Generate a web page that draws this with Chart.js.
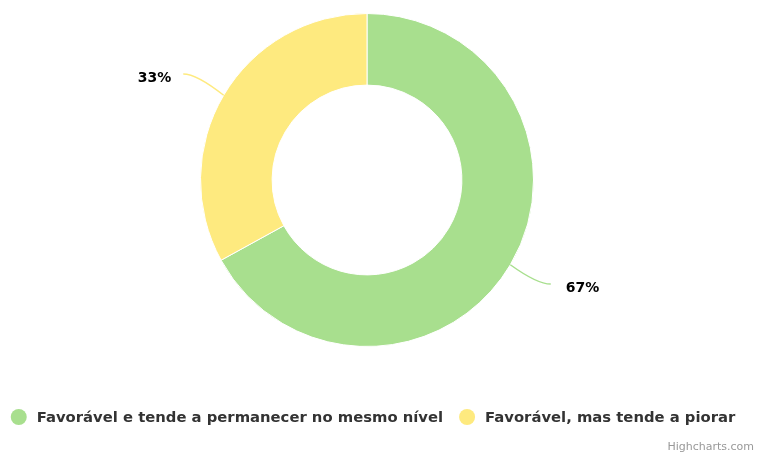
<!DOCTYPE html>
<html>
<head>
<meta charset="utf-8">
<script src="https://cdn.jsdelivr.net/npm/chart.js@4"></script>
<style>
  html, body { margin: 0; padding: 0; background: #ffffff; }
  #wrap { width: 761px; height: 455px; position: relative; }
</style>
</head>
<body>
<div id="wrap"><canvas id="c" width="761" height="455"></canvas></div>
<script>
const categories = ["Favorável e tende a permanecer no mesmo nível", "Favorável, mas tende a piorar"];
const values = [67, 33];
const valueLabels = ["67%", "33%"];
const colors = ["#a8df8e", "#feea7f"];
const creditText = "Highcharts.com";

const FONT = "'DejaVu Sans', 'Liberation Sans', sans-serif";

const pieLabels = {
  id: 'pieLabels',
  afterDatasetsDraw(chart) {
    const ctx = chart.ctx;
    const meta = chart.getDatasetMeta(0);
    ctx.save();
    meta.data.forEach((arc, i) => {
      const p = arc.getProps(['x', 'y', 'startAngle', 'endAngle', 'outerRadius'], true);
      const mid = (p.startAngle + p.endAngle) / 2;
      const cos = Math.cos(mid), sin = Math.sin(mid);
      const r = p.outerRadius;
      const sx = p.x + r * cos, sy = p.y + r * sin;
      const right = cos >= 0;
      const rx = p.x + (r + 40) * cos, ry = p.y + (r + 40) * sin;
      const ex = rx + (right ? 6 : -6), ey = ry - 1;
      const cx1 = p.x + (r + 22) * cos;
      ctx.beginPath();
      ctx.moveTo(sx, sy);
      ctx.quadraticCurveTo(cx1 + (right ? 8 : -8), ey, ex, ey);
      ctx.strokeStyle = chart.data.datasets[0].backgroundColor[i];
      ctx.lineWidth = 1.5;
      ctx.stroke();
      ctx.font = "bold 14px " + FONT;
      ctx.fillStyle = "#000000";
      ctx.textBaseline = "middle";
      ctx.textAlign = right ? "left" : "right";
      ctx.fillText(valueLabels[i], ex + (right ? 15 : -12), ey + 4);
    });
    ctx.restore();
  }
};

const customLegend = {
  id: 'customLegend',
  afterDraw(chart) {
    const ctx = chart.ctx;
    ctx.save();
    ctx.font = "bold 14.8px " + FONT;
    const symW = 16, symGap = 10, itemGap = 16;
    const widths = chart.data.labels.map(l => ctx.measureText(l).width);
    let total = 0;
    widths.forEach((w, i) => { total += symW + symGap + w + (i < widths.length - 1 ? itemGap : 0); });
    let x = 373 - total / 2;
    const y = 417;
    chart.data.labels.forEach((lab, i) => {
      ctx.beginPath();
      ctx.arc(x + symW / 2, y, symW / 2, 0, Math.PI * 2);
      ctx.fillStyle = chart.data.datasets[0].backgroundColor[i];
      ctx.fill();
      ctx.fillStyle = "#333333";
      ctx.textAlign = "left";
      ctx.textBaseline = "middle";
      ctx.fillText(lab, x + symW + symGap, y + 1);
      x += symW + symGap + widths[i] + itemGap;
    });
    ctx.font = "11px " + FONT;
    ctx.fillStyle = "#999999";
    ctx.textAlign = "right";
    ctx.textBaseline = "middle";
    ctx.fillText(creditText, 754, 447);
    ctx.restore();
  }
};

new Chart(document.getElementById('c'), {
  type: 'doughnut',
  data: {
    labels: categories,
    datasets: [{
      data: values,
      backgroundColor: colors,
      borderColor: '#ffffff',
      borderWidth: 1,
      hoverOffset: 0
    }]
  },
  options: {
    responsive: false,
    animation: false,
    cutout: '57%',
    layout: { padding: { top: 13, bottom: 108, left: 0, right: 27 } },
    plugins: {
      legend: { display: false },
      tooltip: { enabled: false }
    }
  },
  plugins: [pieLabels, customLegend]
});
</script>
</body>
</html>
